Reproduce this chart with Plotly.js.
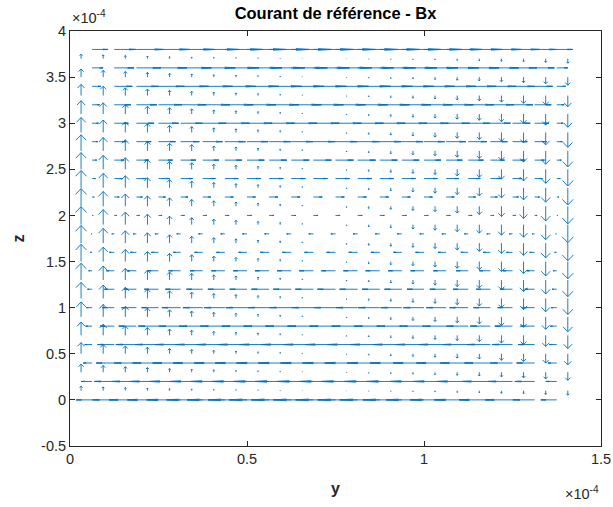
<!DOCTYPE html>
<html><head><meta charset="utf-8">
<script src="https://cdn.plot.ly/plotly-3.0.1.min.js"></script>
<style>html,body{margin:0;padding:0;background:#fff}#chart{width:613px;height:507px}</style>
</head><body><div id="chart"></div>
<script>
// ---- grid positions (units of 1e-4) ----
const bzY = [0.03125,0.09375,0.15625,0.21875,0.28125,0.34375,0.40625,0.46875,0.53125,0.59375,0.65625,0.71875,0.78125,0.84375,0.90625,0.96875,1.03125,1.09375,1.15625,1.21875,1.28125,1.34375,1.40625];
const bzZ = [0.1,0.3,0.5,0.7,0.9,1.1,1.3,1.5,1.7,1.9,2.1,2.3,2.5,2.7,2.9,3.1,3.3,3.5,3.7];
const byY = [0.0625,0.125,0.1875,0.25,0.3125,0.375,0.4375,0.5,0.5625,0.625,0.6875,0.75,0.8125,0.875,0.9375,1.0,1.0625,1.125,1.1875,1.25,1.3125,1.375];
const byZ = [0,0.2,0.4,0.6,0.8,1.0,1.2,1.4,1.6,1.8,2.0,2.2,2.4,2.6,2.8,3.0,3.2,3.4,3.6,3.8];

// ---- vertical component (rows: bzZ bottom->top, cols: bzY) ----
const Bz = [
[4.9,4.1,3.4,2.9,2.3,1.9,1.5,1.2,0.9,0.6,0.3,0,-0.3,-0.6,-0.9,-1.2,-1.5,-1.9,-2.3,-2.9,-3.4,-4.1,-4.9],
[8.8,7.3,6.1,5.1,4.1,3.4,2.7,2.1,1.6,1.1,0.6,0,-0.6,-1.1,-1.6,-2.1,-2.7,-3.4,-4.1,-5.1,-6.1,-7.3,-8.8],
[12.1,10.1,8.4,7.1,5.7,4.7,3.7,2.9,2.2,1.5,0.8,0,-0.8,-1.5,-2.2,-2.9,-3.7,-4.7,-5.7,-7.1,-8.4,-10.1,-12.1],
[14.4,12.1,10.1,8.4,6.8,5.6,4.4,3.5,2.6,1.8,1.0,0,-1.0,-1.8,-2.6,-3.5,-4.4,-5.6,-6.8,-8.4,-10.1,-12.1,-14.4],
[16.2,13.5,11.3,9.5,7.6,6.3,5.0,3.9,2.9,2.0,1.1,0,-1.1,-2.0,-2.9,-3.9,-5.0,-6.3,-7.6,-9.5,-11.3,-13.5,-16.2],
[17.4,14.5,12.1,10.1,8.2,6.8,5.3,4.2,3.1,2.1,1.2,0,-1.2,-2.1,-3.1,-4.2,-5.3,-6.8,-8.2,-10.1,-12.1,-14.5,-17.4],
[18.1,15.2,12.6,10.6,8.6,7.1,5.6,4.4,3.3,2.2,1.2,0,-1.2,-2.2,-3.3,-4.4,-5.6,-7.1,-8.6,-10.6,-12.6,-15.2,-18.1],
[18.7,15.6,13.1,10.9,8.8,7.3,5.8,4.5,3.4,2.3,1.2,0,-1.2,-2.3,-3.4,-4.5,-5.8,-7.3,-8.8,-10.9,-13.1,-15.6,-18.7],
[19.1,16.0,13.3,11.2,9.0,7.4,5.9,4.6,3.4,2.4,1.3,0,-1.3,-2.4,-3.4,-4.6,-5.9,-7.4,-9.0,-11.2,-13.3,-16.0,-19.1],
[19.5,16.3,13.6,11.4,9.2,7.6,6.0,4.7,3.5,2.4,1.3,0,-1.3,-2.4,-3.5,-4.7,-6.0,-7.6,-9.2,-11.4,-13.6,-16.3,-19.5],
[19.1,16.0,13.3,11.2,9.0,7.4,5.9,4.6,3.4,2.4,1.3,0,-1.3,-2.4,-3.4,-4.6,-5.9,-7.4,-9.0,-11.2,-13.3,-16.0,-19.1],
[18.7,15.6,13.1,10.9,8.8,7.3,5.8,4.5,3.4,2.3,1.2,0,-1.2,-2.3,-3.4,-4.5,-5.8,-7.3,-8.8,-10.9,-13.1,-15.6,-18.7],
[18.1,15.2,12.6,10.6,8.6,7.1,5.6,4.4,3.3,2.2,1.2,0,-1.2,-2.2,-3.3,-4.4,-5.6,-7.1,-8.6,-10.6,-12.6,-15.2,-18.1],
[17.4,14.5,12.1,10.1,8.2,6.8,5.3,4.2,3.1,2.1,1.2,0,-1.2,-2.1,-3.1,-4.2,-5.3,-6.8,-8.2,-10.1,-12.1,-14.5,-17.4],
[16.2,13.5,11.3,9.5,7.6,6.3,5.0,3.9,2.9,2.0,1.1,0,-1.1,-2.0,-2.9,-3.9,-5.0,-6.3,-7.6,-9.5,-11.3,-13.5,-16.2],
[14.4,12.1,10.1,8.4,6.8,5.6,4.4,3.5,2.6,1.8,1.0,0,-1.0,-1.8,-2.6,-3.5,-4.4,-5.6,-6.8,-8.4,-10.1,-12.1,-14.4],
[12.1,10.1,8.4,7.1,5.7,4.7,3.7,2.9,2.2,1.5,0.8,0,-0.8,-1.5,-2.2,-2.9,-3.7,-4.7,-5.7,-7.1,-8.4,-10.1,-12.1],
[8.8,7.3,6.1,5.1,4.1,3.4,2.7,2.1,1.6,1.1,0.6,0,-0.6,-1.1,-1.6,-2.1,-2.7,-3.4,-4.1,-5.1,-6.1,-7.3,-8.8],
[4.9,4.1,3.4,2.9,2.3,1.9,1.5,1.2,0.9,0.6,0.3,0,-0.3,-0.6,-0.9,-1.2,-1.5,-1.9,-2.3,-2.9,-3.4,-4.1,-4.9]
];

// ---- horizontal component (rows: byZ bottom->top, cols: byY) ----
const By = [
[-4.5,-6.2,-7.7,-8.8,-9.6,-10.2,-10.7,-11.0,-11.3,-11.3,-11.3,-11.3,-11.3,-11.3,-11.0,-10.7,-10.2,-9.6,-8.8,-7.7,-6.2,-4.5],
[-3.1,-5.6,-6.9,-8.0,-8.7,-9.2,-9.6,-9.9,-10.1,-10.2,-10.2,-10.2,-10.2,-10.1,-9.9,-9.6,-9.2,-8.7,-8.0,-6.9,-5.6,-3.1],
[-2.5,-5.1,-6.3,-7.3,-7.9,-8.4,-8.7,-9.0,-9.2,-9.3,-9.3,-9.3,-9.3,-9.2,-9.0,-8.7,-8.4,-7.9,-7.3,-6.3,-5.1,-2.5],
[-2.1,-4.7,-5.8,-6.6,-7.2,-7.7,-8.0,-8.2,-8.4,-8.5,-8.5,-8.5,-8.5,-8.4,-8.2,-8.0,-7.7,-7.2,-6.6,-5.8,-4.7,-2.1],
[-1.8,-4.0,-5.0,-5.7,-6.2,-6.6,-6.9,-7.1,-7.2,-7.3,-7.3,-7.3,-7.3,-7.2,-7.1,-6.9,-6.6,-6.2,-5.7,-5.0,-4.0,-1.8],
[-1.6,-3.4,-4.2,-4.8,-5.3,-5.6,-5.8,-6.0,-6.1,-6.2,-6.2,-6.2,-6.2,-6.1,-6.0,-5.8,-5.6,-5.3,-4.8,-4.2,-3.4,-1.6],
[-1.3,-2.8,-3.5,-4.0,-4.3,-4.6,-4.8,-4.9,-5.0,-5.1,-5.1,-5.1,-5.1,-5.0,-4.9,-4.8,-4.6,-4.3,-4.0,-3.5,-2.8,-1.3],
[-1.0,-2.2,-2.7,-3.1,-3.4,-3.6,-3.8,-3.9,-4.0,-4.0,-4.0,-4.0,-4.0,-4.0,-3.9,-3.8,-3.6,-3.4,-3.1,-2.7,-2.2,-1.0],
[-0.6,-1.4,-1.7,-2.0,-2.1,-2.3,-2.4,-2.4,-2.5,-2.5,-2.5,-2.5,-2.5,-2.5,-2.4,-2.4,-2.3,-2.1,-2.0,-1.7,-1.4,-0.6],
[-0.3,-0.7,-0.9,-1.0,-1.1,-1.2,-1.2,-1.3,-1.3,-1.3,-1.3,-1.3,-1.3,-1.3,-1.3,-1.2,-1.2,-1.1,-1.0,-0.9,-0.7,-0.3],
[0.3,0.7,0.9,1.0,1.1,1.2,1.2,1.3,1.3,1.3,1.3,1.3,1.3,1.3,1.3,1.2,1.2,1.1,1.0,0.9,0.7,0.3],
[0.6,1.4,1.7,2.0,2.1,2.3,2.4,2.4,2.5,2.5,2.5,2.5,2.5,2.5,2.4,2.4,2.3,2.1,2.0,1.7,1.4,0.6],
[1.0,2.2,2.7,3.1,3.4,3.6,3.8,3.9,4.0,4.0,4.0,4.0,4.0,4.0,3.9,3.8,3.6,3.4,3.1,2.7,2.2,1.0],
[1.3,2.8,3.5,4.0,4.3,4.6,4.8,4.9,5.0,5.1,5.1,5.1,5.1,5.0,4.9,4.8,4.6,4.3,4.0,3.5,2.8,1.3],
[1.6,3.4,4.2,4.8,5.3,5.6,5.8,6.0,6.1,6.2,6.2,6.2,6.2,6.1,6.0,5.8,5.6,5.3,4.8,4.2,3.4,1.6],
[1.8,4.0,5.0,5.7,6.2,6.6,6.9,7.1,7.2,7.3,7.3,7.3,7.3,7.2,7.1,6.9,6.6,6.2,5.7,5.0,4.0,1.8],
[2.1,4.7,5.8,6.6,7.2,7.7,8.0,8.2,8.4,8.5,8.5,8.5,8.5,8.4,8.2,8.0,7.7,7.2,6.6,5.8,4.7,2.1],
[2.5,5.1,6.3,7.3,7.9,8.4,8.7,9.0,9.2,9.3,9.3,9.3,9.3,9.2,9.0,8.7,8.4,7.9,7.3,6.3,5.1,2.5],
[3.1,5.6,6.9,8.0,8.7,9.2,9.6,9.9,10.1,10.2,10.2,10.2,10.2,10.1,9.9,9.6,9.2,8.7,8.0,6.9,5.6,3.1],
[4.5,6.2,7.7,8.8,9.6,10.2,10.7,11.0,11.3,11.3,11.3,11.3,11.3,11.3,11.0,10.7,10.2,9.6,8.8,7.7,6.2,4.5]
];

// ---- axis ticks ----
const xTickVals = [0, 0.5, 1, 1.5];
const xTickText = ['0', '0.5', '1', '1.5'];
const yTickVals = [-0.5, 0, 0.5, 1, 1.5, 2, 2.5, 3, 3.5, 4];
const yTickText = ['-0.5', '0', '0.5', '1', '1.5', '2', '2.5', '3', '3.5', '4'];

// ---- build quiver line segments (MATLAB-style arrows) ----
const EXP = 1e-4, SCALE = 1e-6, ALPHA = 0.33, BETA = 0.25;
const xs = [], ys = [];
function arrow(x, y, u, v) {
  if (u === 0 && v === 0) return;
  const tx = x + u, ty = y + v;
  xs.push(x, tx, null); ys.push(y, ty, null);
  xs.push(tx - ALPHA * (u + BETA * v), tx, tx - ALPHA * (u - BETA * v), null);
  ys.push(ty - ALPHA * (v - BETA * u), ty, ty - ALPHA * (v + BETA * u), null);
}
bzZ.forEach((z, k) => bzY.forEach((yy, i) => arrow(yy * EXP, z * EXP, 0, Bz[k][i] * SCALE)));
byZ.forEach((z, k) => byY.forEach((yy, j) => arrow(yy * EXP, z * EXP, By[k][j] * SCALE, 0)));

const FONT = 'Liberation Sans, Arial, Helvetica, sans-serif';
const trace = {
  type: 'scatter', mode: 'lines', x: xs, y: ys,
  line: {color: '#0072BD', width: 0.9}, hoverinfo: 'skip', showlegend: false
};
const axisCommon = {
  showgrid: false, zeroline: false, showline: true, mirror: 'ticks',
  linecolor: '#262626', linewidth: 1, ticks: 'inside', ticklen: 5,
  tickcolor: '#262626', tickfont: {family: FONT, size: 14.5, color: '#262626'}
};
const layout = {
  width: 613, height: 507,
  margin: {l: 70, r: 12, t: 31, b: 61},
  paper_bgcolor: '#ffffff', plot_bgcolor: '#ffffff',
  font: {family: FONT, color: '#262626'},
  title: {text: '<b>Courant de référence - Bx</b>', font: {family: FONT, size: 16.5, color: '#000'},
          x: 0.5, xref: 'paper', y: 1 - 13 / 507, yref: 'container', yanchor: 'middle'},
  xaxis: Object.assign({}, axisCommon, {
    range: [0, 1.5 * EXP], tickvals: xTickVals.map(v => v * EXP), ticktext: xTickText,
    title: {text: '<b>y</b>', font: {family: FONT, size: 16, color: '#262626'}, standoff: 16}
  }),
  yaxis: Object.assign({}, axisCommon, {
    range: [-0.5 * EXP, 4 * EXP], tickvals: yTickVals.map(v => v * EXP), ticktext: yTickText,
    title: {text: '<b>z</b>', font: {family: FONT, size: 16, color: '#262626'}, standoff: 12}
  }),
  annotations: [
    {text: '×10<sup>-4</sup>', xref: 'paper', yref: 'paper', x: 0, y: 1, xanchor: 'left', yanchor: 'bottom',
     yshift: 3, showarrow: false, font: {family: FONT, size: 14.5, color: '#262626'}},
    {text: '×10<sup>-4</sup>', xref: 'paper', yref: 'paper', x: 1, y: 0, xanchor: 'right', yanchor: 'top',
     yshift: -36, showarrow: false, font: {family: FONT, size: 14.5, color: '#262626'}}
  ]
};
Plotly.newPlot('chart', [trace], layout, {displayModeBar: false, staticPlot: true});
</script></body></html>
